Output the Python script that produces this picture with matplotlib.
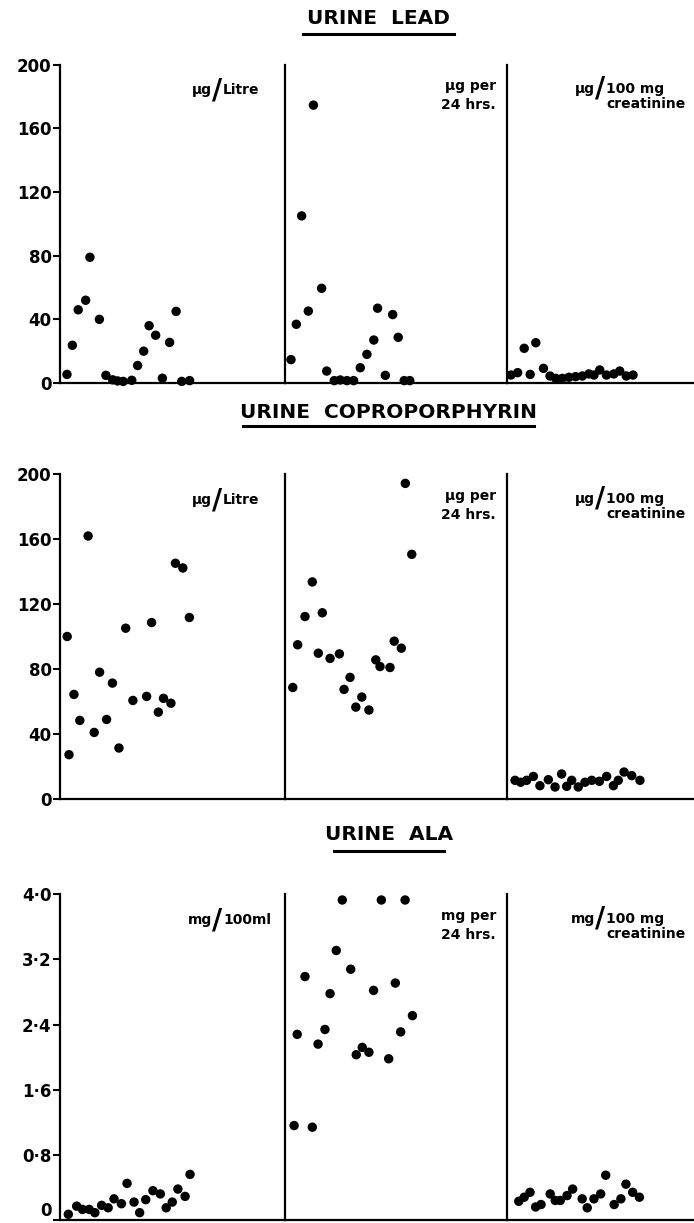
import matplotlib
matplotlib.use("Agg")
import matplotlib.pyplot as plt
from matplotlib.lines import Line2D
from matplotlib.transforms import offset_copy

# x = position of each subject within its panel (0-100), y = value
lead_litre_x = [3.1, 5.5, 8.1, 11.4, 13.3, 17.5, 20.4, 23.4, 25.6, 28.1,
                31.9, 34.5, 37.2, 39.6, 42.5, 45.5, 48.7, 51.6, 54.1, 57.6]
lead_litre_y = [5.4, 23.7, 46, 52, 79, 40, 4.8, 2, 1.3, 1,
                1.7, 11, 20, 36, 30, 3, 25.5, 45, 1, 1.5]
lead_day_x = [2.7, 5.1, 7.5, 10.5, 12.8, 16.5, 18.8, 22.2, 24.9, 27.9,
              30.9, 33.9, 36.9, 40.0, 41.7, 45.2, 48.5, 51.0, 53.7, 56.2]
lead_day_y = [14.7, 36.9, 105, 45.2, 174.6, 59.5, 7.5, 1.5, 1.9, 1.5,
              1.5, 9.6, 18, 27, 47, 4.8, 43, 28.7, 1.5, 1.5]
lead_creat_x = [2.1, 5.7, 9.2, 12.4, 15.4, 19.5, 23.0, 26.1, 29.6, 33.1,
                36.7, 40.3, 43.8, 46.5, 49.6, 53.2, 57.1, 60.3, 63.8, 67.4]
lead_creat_y = [5, 6.5, 21.8, 5.4, 25.3, 9.2, 4.4, 2.9, 2.9, 3.6,
                4, 4.4, 5.7, 5, 8.2, 5, 5.7, 7.5, 4.4, 5]

copro_litre_x = [3.2, 4.0, 6.2, 8.8, 12.5, 15.2, 17.6, 20.7, 23.3, 26.2,
                 29.2, 32.4, 38.5, 40.7, 43.7, 46.0, 49.3, 51.3, 54.6, 57.5]
copro_litre_y = [100.1, 27.3, 64.4, 48.4, 162, 41, 78.1, 49, 71.4, 31.4,
                 105.2, 60.7, 63.2, 108.7, 53.5, 62, 59, 145.2, 142.3, 111.8]
copro_day_x = [3.5, 5.7, 9.0, 12.3, 15.0, 16.8, 20.3, 24.5, 26.6, 29.3,
               31.9, 34.6, 37.8, 40.9, 42.8, 47.3, 49.2, 52.4, 54.2, 57.1]
copro_day_y = [68.7, 95, 112.4, 133.7, 89.8, 114.7, 86.6, 89.4, 67.5, 74.9,
               56.6, 62.8, 54.8, 85.7, 81.6, 81, 97.2, 92.9, 194.4, 150.7]
copro_creat_x = [4.3, 7.3, 10.5, 14.1, 17.6, 22.1, 25.7, 29.2, 31.9, 34.6,
                 38.1, 41.7, 45.3, 49.4, 53.3, 56.9, 59.5, 62.6, 66.7, 71.1]
copro_creat_y = [11.5, 10.3, 11.5, 13.9, 8.2, 11.9, 7.4, 15.4, 7.8, 11.5,
                 7.4, 10.3, 11.5, 10.9, 13.9, 8.2, 11.5, 16.6, 14.4, 11.5]

ala_ml_x = [3.7, 7.4, 10.0, 13.0, 15.5, 18.5, 21.4, 24.0, 27.3, 29.8,
            32.9, 35.4, 38.1, 41.3, 44.6, 47.2, 49.9, 52.4, 55.6, 57.8]
ala_ml_y = [0.07, 0.17, 0.13, 0.13, 0.09, 0.18, 0.15, 0.26, 0.2, 0.45,
            0.22, 0.09, 0.25, 0.36, 0.32, 0.15, 0.22, 0.38, 0.29, 0.56]
ala_day_x = [4.1, 5.5, 9.0, 12.3, 14.9, 18.0, 20.3, 23.1, 25.8, 29.6,
             32.1, 34.8, 37.8, 39.9, 43.4, 46.7, 49.7, 52.1, 54.1, 57.4]
ala_day_y = [1.16, 2.28, 2.99, 1.14, 2.16, 2.34, 2.78, 3.31, 3.93, 3.08,
             2.03, 2.12, 2.06, 2.82, 3.93, 1.98, 2.91, 2.31, 3.93, 2.51]
ala_creat_x = [6.3, 9.2, 12.3, 15.3, 18.2, 23.1, 25.8, 28.5, 32.1, 35.1,
               40.2, 42.9, 46.5, 50.1, 52.8, 57.3, 60.9, 63.6, 67.2, 70.8]
ala_creat_y = [0.23, 0.28, 0.34, 0.16, 0.19, 0.32, 0.24, 0.24, 0.30, 0.38,
               0.26, 0.15, 0.26, 0.32, 0.55, 0.19, 0.26, 0.44, 0.34, 0.28]

titles = ["URINE  LEAD", "URINE  COPROPORPHYRIN", "URINE  ALA"]
lead_ticks = [0, 40, 80, 120, 160, 200]
ala_ticks = [0, 0.8, 1.6, 2.4, 3.2, 4.0]
ala_ticklabels = ["0", "0\u00b78", "1\u00b76", "2\u00b74", "3\u00b72", "4\u00b70"]

rows = [
    dict(title=titles[0], ymax=200, ticks=lead_ticks,
         labels=[str(t) for t in lead_ticks],
         data=[(lead_litre_x, lead_litre_y), (lead_day_x, lead_day_y),
               (lead_creat_x, lead_creat_y)],
         units=[("\u00b5g", "Litre"), "\u00b5g per\n24 hrs.", ("\u00b5g", "100 mg\ncreatinine")]),
    dict(title=titles[1], ymax=200, ticks=lead_ticks,
         labels=[str(t) for t in lead_ticks],
         data=[(copro_litre_x, copro_litre_y), (copro_day_x, copro_day_y),
               (copro_creat_x, copro_creat_y)],
         units=[("\u00b5g", "Litre"), "\u00b5g per\n24 hrs.", ("\u00b5g", "100 mg\ncreatinine")]),
    dict(title=titles[2], ymax=4.0, ticks=ala_ticks, labels=ala_ticklabels,
         data=[(ala_ml_x, ala_ml_y), (ala_day_x, ala_day_y),
               (ala_creat_x, ala_creat_y)],
         units=[("mg", "100ml"), "mg per\n24 hrs.", ("mg", "100 mg\ncreatinine")]),
]

W, H = 694, 1223
edges = [60, 285, 507, 694]
row_px = [(64.7, 383), (474.3, 799), (894.3, 1220)]
title_y = [19, 412, 835]
title_x = [378, 388, 389]
underline = [(303, 454, 34), (243, 534, 426), (334, 444, 851)]

FONT = "DejaVu Sans"
fig = plt.figure(figsize=(W / 100, H / 100), dpi=100)


def slash_label(ax, parts, x_slash, y):
    left, right = parts
    lines = right.split("\n")
    tr = ax.transAxes
    ax.text(x_slash, y, "/", transform=tr, fontsize=20, fontweight="bold",
            family=FONT, ha="center", va="center")
    ax.text(x_slash, y, left, transform=offset_copy(tr, fig=fig, x=-4, y=0, units="points"),
            fontsize=10, fontweight="bold", family=FONT, ha="right", va="center")
    ax.text(x_slash, y, lines[0], transform=offset_copy(tr, fig=fig, x=4, y=0, units="points"),
            fontsize=10, fontweight="bold", family=FONT, ha="left", va="center")
    return lines[1:]


for r, row in enumerate(rows):
    ytop, ybot = row_px[r]
    for p in range(3):
        x0, x1 = edges[p], edges[p + 1]
        ax = fig.add_axes([x0 / W, 1 - ybot / H, (x1 - x0) / W, (ybot - ytop) / H])
        xs, ys = row["data"][p]
        ax.scatter(xs, ys, s=46, color="black", edgecolors="none", clip_on=False, zorder=3)
        ax.set_xlim(0, 100)
        ax.set_ylim(0, row["ymax"])
        ax.set_facecolor("none")
        for side in ("top", "right"):
            ax.spines[side].set_visible(False)
        for side in ("left", "bottom"):
            ax.spines[side].set_linewidth(1.6)
        ax.set_xticks([])
        if p == 0:
            ax.set_yticks(row["ticks"])
            ax.set_yticklabels(row["labels"], fontsize=12, fontweight="bold", family=FONT)
            ax.tick_params(axis="y", length=5, width=1.5, pad=1)
            if r == 2:
                # keep the bottom "0" inside the picture
                zero = ax.get_yticklabels()[0]
                zero.set_va("bottom")
        else:
            ax.set_yticks([])

        unit = row["units"][p]
        if p == 0:
            slash_label(ax, unit, 0.70, 0.92)
        elif p == 1:
            ax.text(0.95, 0.955, unit, transform=ax.transAxes, ha="right", va="top",
                    fontsize=10, fontweight="bold", family=FONT, linespacing=1.45)
        else:
            extra = slash_label(ax, unit, 0.50, 0.925)
            ax.text(0.955, 0.90, extra[0], transform=ax.transAxes, ha="right", va="top",
                    fontsize=10, fontweight="bold", family=FONT)

    fig.text(title_x[r] / W, 1 - title_y[r] / H, row["title"], ha="center", va="center",
             fontsize=14.5, fontweight="bold", family=FONT)
    ux0, ux1, uy = underline[r]
    fig.add_artist(Line2D([ux0 / W, ux1 / W], [1 - uy / H, 1 - uy / H],
                          color="black", linewidth=2.2, transform=fig.transFigure))

fig.savefig("out.png", dpi=100, facecolor="white")
